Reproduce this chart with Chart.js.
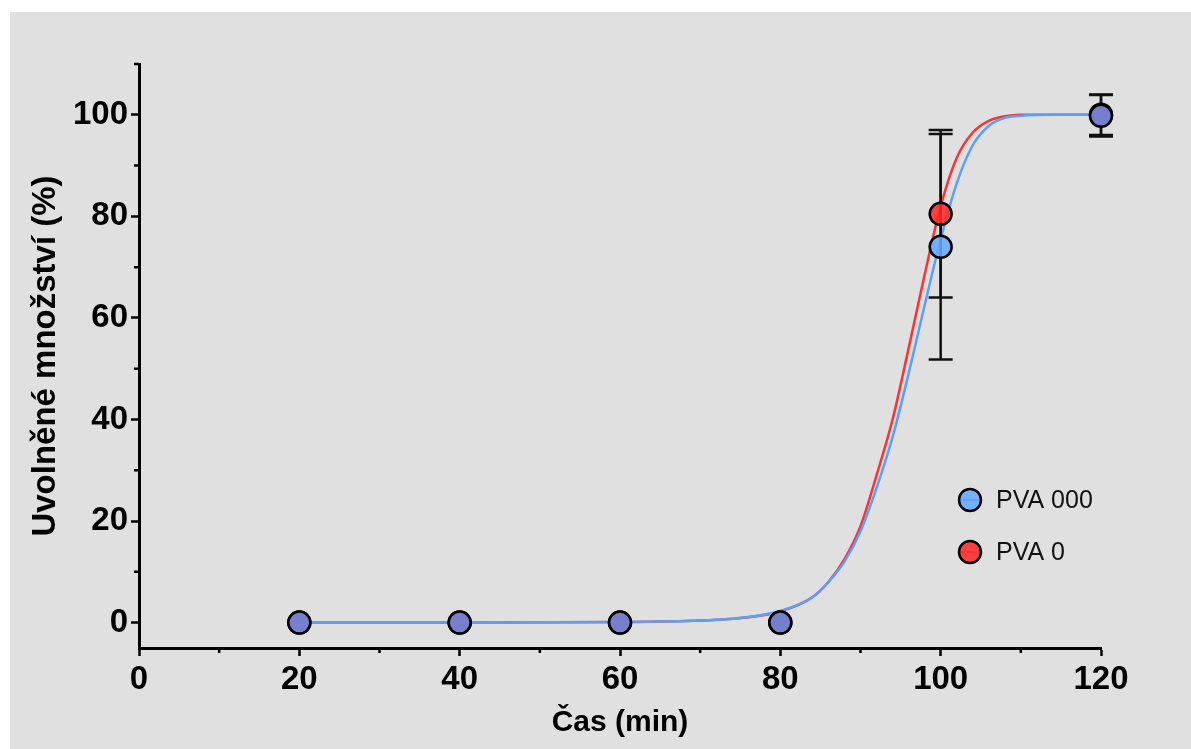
<!DOCTYPE html>
<html>
<head>
<meta charset="utf-8">
<script src="https://cdn.jsdelivr.net/npm/chart.js@4.4.0/dist/chart.umd.min.js"></script>
<style>
  html, body { margin: 0; padding: 0; background: #fff; }
  #wrap { position: absolute; left: 10px; top: 12px; width: 1181px; height: 737px; background: #e0e0e0; }
</style>
</head>
<body>
<div id="wrap"><canvas id="releaseChart" width="1181" height="737"></canvas></div>
<script>
// measured points (mean +/- SD)
const timeMin = [20, 40, 60, 80, 100, 120];
const pva000Mean = [0, 0, 0, 0, 74.0, 99.8];
const pva000Sd = [0, 0, 0, 0, 22.2, 4.1];
const pva0Mean = [0, 0, 0, 0, 80.5, 100.0];
const pva0Sd = [0, 0, 0, 0, 16.5, 4.0];

// fitted curves
const fitX = [20, 40, 60, 70, 75, 80, 84, 86, 88, 90, 92, 94, 96, 98, 100, 102, 104, 106, 108, 110, 114, 120];
const pva000Fit = [0, 0, 0.1, 0.4, 0.9, 2.3, 5, 8, 12, 18, 26.5, 36.5, 49, 62.5, 75.5, 86.5, 94, 97.8, 99.4, 99.8, 100, 100];
const pva0Fit = [0, 0, 0.1, 0.4, 0.9, 2.2, 5, 8, 12.5, 19, 29, 40, 54, 68.5, 82, 91.5, 96.5, 98.8, 99.7, 100, 100, 100];

const xTicks = [0, 10, 20, 30, 40, 50, 60, 70, 80, 90, 100, 110, 120];
const yTicks = [0, 10, 20, 30, 40, 50, 60, 70, 80, 90, 100, 110];
const legendLabels = ['PVA 000', 'PVA 0'];

const BLUE_LINE = 'rgb(90, 160, 250)';
const RED_LINE = 'rgb(250, 50, 50)';
const BLUE_FILL = 'rgba(100, 170, 255, 0.88)';
const RED_FILL = 'rgba(255, 40, 40, 0.88)';
const BOTH_FILL = 'rgba(118, 128, 205, 0.95)';

// where the two series sit on top of each other the marker looks violet
const same = timeMin.map((t, i) => Math.abs(pva000Mean[i] - pva0Mean[i]) < 1);
const blueColors = same.map(s => s ? BOTH_FILL : BLUE_FILL);
const redColors = same.map(s => s ? BOTH_FILL : RED_FILL);

const toXY = (xs, ys) => xs.map((x, i) => ({ x: x, y: ys[i] }));
const isMajor = v => v % 20 === 0 && v <= 120;

Chart.defaults.font.family = "'Liberation Sans', Arial, Helvetica, sans-serif";
Chart.defaults.color = '#000';

const errorBars = {
  id: 'errorBars',
  afterDatasetDraw(chart, args) {
    if (args.index !== 1) return;
    const xs = chart.scales.x, ys = chart.scales.y, ctx = chart.ctx;
    ctx.save();
    ctx.strokeStyle = '#111';
    ctx.lineWidth = 2.5;
    [[pva0Mean, pva0Sd], [pva000Mean, pva000Sd]].forEach(([means, sds]) => {
      timeMin.forEach((t, i) => {
        if (!sds[i]) return;
        const px = xs.getPixelForValue(t);
        const top = ys.getPixelForValue(means[i] + sds[i]);
        const bot = ys.getPixelForValue(means[i] - sds[i]);
        ctx.beginPath();
        ctx.moveTo(px, top); ctx.lineTo(px, bot);
        ctx.moveTo(px - 12, top); ctx.lineTo(px + 12, top);
        ctx.moveTo(px - 12, bot); ctx.lineTo(px + 12, bot);
        ctx.stroke();
      });
    });
    ctx.restore();
  }
};

const minorTicks = {
  id: 'minorTicks',
  afterDraw(chart) {
    const ctx = chart.ctx, xs = chart.scales.x, ys = chart.scales.y;
    const area = chart.chartArea;
    ctx.save();
    ctx.strokeStyle = '#000';
    ctx.lineWidth = 2.5;
    ctx.beginPath();
    xTicks.filter(v => !isMajor(v)).forEach(v => {
      const px = xs.getPixelForValue(v);
      ctx.moveTo(px, area.bottom); ctx.lineTo(px, area.bottom + 5);
    });
    yTicks.filter(v => !isMajor(v)).forEach(v => {
      const py = ys.getPixelForValue(v);
      ctx.moveTo(area.left, py); ctx.lineTo(area.left - 5, py);
    });
    ctx.stroke();
    ctx.restore();
  }
};

const seriesLegend = {
  id: 'seriesLegend',
  afterDraw(chart) {
    const ctx = chart.ctx;
    const fills = [BLUE_FILL, RED_FILL];
    const lines = [BLUE_LINE, RED_LINE];
    ctx.save();
    legendLabels.forEach((label, i) => {
      const cx = 960, cy = 488 + i * 52;
      ctx.beginPath();
      ctx.arc(cx, cy, 11, 0, Math.PI * 2);
      ctx.fillStyle = fills[i];
      ctx.fill();
      ctx.strokeStyle = lines[i];
      ctx.lineWidth = 1.5;
      ctx.beginPath();
      ctx.moveTo(cx - 10, cy); ctx.lineTo(cx + 10, cy);
      ctx.stroke();
      ctx.beginPath();
      ctx.arc(cx, cy, 11, 0, Math.PI * 2);
      ctx.strokeStyle = '#000';
      ctx.lineWidth = 2.5;
      ctx.stroke();
      ctx.fillStyle = '#111';
      ctx.font = "25px 'Liberation Sans', Arial, sans-serif";
      ctx.textBaseline = 'middle';
      ctx.fillText(label, cx + 26, cy + 1);
    });
    ctx.restore();
  }
};

const ctx = document.getElementById('releaseChart').getContext('2d');
new Chart(ctx, {
  type: 'line',
  data: {
    datasets: [
      {
        label: 'PVA 0 fit',
        data: toXY(fitX, pva0Fit),
        borderColor: RED_LINE,
        borderWidth: 2.5,
        pointRadius: 0,
        cubicInterpolationMode: 'monotone',
        order: 5
      },
      {
        label: 'PVA 000 fit',
        data: toXY(fitX, pva000Fit),
        borderColor: BLUE_LINE,
        borderWidth: 2.5,
        pointRadius: 0,
        cubicInterpolationMode: 'monotone',
        order: 4
      },
      {
        label: 'PVA 0',
        data: toXY(timeMin, pva0Mean),
        showLine: false,
        pointRadius: 11,
        pointBorderWidth: 2.5,
        pointBorderColor: '#000',
        pointBackgroundColor: redColors,
        clip: false,
        order: 2
      },
      {
        label: 'PVA 000',
        data: toXY(timeMin, pva000Mean),
        showLine: false,
        pointRadius: 11,
        pointBorderWidth: 2.5,
        pointBorderColor: '#000',
        pointBackgroundColor: blueColors,
        clip: false,
        order: 1
      }
    ]
  },
  options: {
    responsive: false,
    devicePixelRatio: 1,
    animation: false,
    layout: { padding: { left: 0, top: 52, right: 90, bottom: 0 } },
    plugins: {
      legend: { display: false },
      tooltip: { enabled: false }
    },
    scales: {
      x: {
        type: 'linear',
        min: 0,
        max: 120,
        afterBuildTicks: s => { s.ticks = xTicks.map(v => ({ value: v })); },
        afterFit: s => { s.height = 101; },
        border: { display: true, color: '#000', width: 3 },
        grid: {
          drawOnChartArea: false,
          tickLength: 8,
          tickWidth: 2.5,
          tickColor: c => (c.tick && isMajor(c.tick.value)) ? '#000' : 'rgba(0,0,0,0)'
        },
        ticks: {
          padding: 4,
          maxRotation: 0,
          autoSkip: false,
          font: { size: 33, weight: 'bold' },
          callback: v => isMajor(v) ? v : ''
        },
        title: {
          display: true,
          text: 'Čas (min)',
          font: { size: 30, weight: 'bold' },
          padding: { top: 0, bottom: 8 }
        }
      },
      y: {
        min: -5,
        max: 110,
        afterBuildTicks: s => { s.ticks = yTicks.map(v => ({ value: v })); },
        afterFit: s => { s.width = 129; },
        border: { display: true, color: '#000', width: 3 },
        grid: {
          drawOnChartArea: false,
          tickLength: 8,
          tickWidth: 2.5,
          tickColor: c => (c.tick && isMajor(c.tick.value) && c.tick.value <= 100) ? '#000' : 'rgba(0,0,0,0)'
        },
        ticks: {
          padding: 3,
          autoSkip: false,
          font: { size: 33, weight: 'bold' },
          callback: v => (isMajor(v) && v <= 100) ? v : ''
        },
        title: {
          display: true,
          text: 'Uvolněné množství (%)',
          font: { size: 33, weight: 'bold' },
          padding: { top: 16, bottom: 0 }
        }
      }
    }
  },
  plugins: [errorBars, minorTicks, seriesLegend]
});
</script>
</body>
</html>
